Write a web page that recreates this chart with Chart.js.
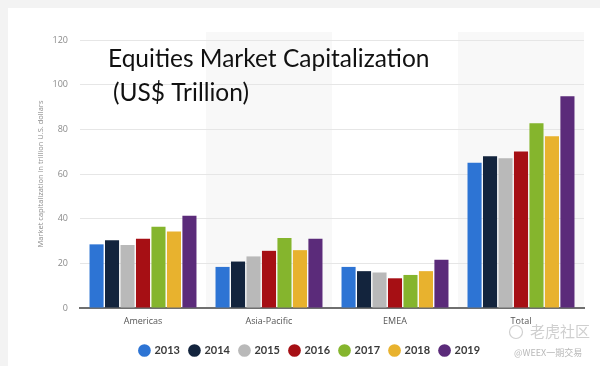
<!DOCTYPE html>
<html>
<head>
<meta charset="utf-8">
<script src="https://cdn.jsdelivr.net/npm/chart.js@4/dist/chart.umd.min.js"></script>
<style>
  html, body { margin: 0; padding: 0; background: #f3f3f3; }
  #wrap { position: absolute; left: 0; top: 0; width: 600px; height: 366px; }
  #card { position: absolute; left: 8px; top: 8px; width: 592px; height: 358px; background: #ffffff; }
  canvas { position: absolute; left: 0; top: 0; }
</style>
</head>
<body>
<div id="wrap">
  <div id="card"></div>
  <canvas id="c" width="600" height="366"></canvas>
</div>
<script>
const categories = ["Americas", "Asia-Pacific", "EMEA", "Total"];
const years = ["2013", "2014", "2015", "2016", "2017", "2018", "2019"];
const v2013 = [28.5, 18.4, 18.4, 65.0];
const v2014 = [30.3, 20.8, 16.5, 67.9];
const v2015 = [28.2, 23.1, 15.9, 67.0];
const v2016 = [31.0, 25.6, 13.3, 70.1];
const v2017 = [36.4, 31.3, 14.8, 82.7];
const v2018 = [34.2, 25.9, 16.5, 76.9];
const v2019 = [41.3, 31.0, 21.6, 94.8];
const yTicks = [0, 20, 40, 60, 80, 100, 120];
const colors = ["#2d74d4", "#13243d", "#b9b9b9", "#a60f14", "#85b52d", "#e8b22e", "#5b2b7a"];
const seriesValues = [v2013, v2014, v2015, v2016, v2017, v2018, v2019];

const bandPlugin = {
  id: 'bands',
  beforeDraw(chart) {
    const { ctx, chartArea, scales } = chart;
    const x = scales.x;
    const w = (chartArea.right - chartArea.left) / categories.length;
    ctx.save();
    ctx.fillStyle = '#f8f8f8';
    categories.forEach((c, i) => {
      if (i % 2 === 1) {
        const cx = x.getPixelForValue(i);
        ctx.fillRect(cx - w / 2, chartArea.top - 8, w, chartArea.bottom - chartArea.top + 8);
      }
    });
    ctx.restore();
  }
};

const overlayPlugin = {
  id: 'overlay',
  afterDraw(chart) {
    const ctx = chart.ctx;
    ctx.save();
    ctx.fillStyle = '#111111';
    ctx.font = '24.5px Lato, "Open Sans", sans-serif';
    ctx.textBaseline = 'alphabetic';
    ctx.textAlign = 'left';
    ctx.fillText('Equities Market Capitalization', 108, 67);
    ctx.fillText('(US$ Trillion)', 113, 101);
    // watermark
    ctx.fillStyle = '#cfcfcf';
    ctx.font = '15px "Noto Sans CJK SC", sans-serif';
    ctx.fillText('老虎社区', 530, 337);
    ctx.strokeStyle = '#d0d0d0';
    ctx.lineWidth = 1.2;
    ctx.beginPath();
    ctx.arc(516, 332, 6.5, 0, Math.PI * 2);
    ctx.stroke();
    ctx.font = '9px "Noto Sans CJK SC", sans-serif';
    ctx.fillStyle = '#b8b8b8';
    ctx.fillText('@WEEX一期交易', 514, 356);
    ctx.restore();
  }
};

new Chart(document.getElementById('c'), {
  type: 'bar',
  data: {
    labels: categories,
    datasets: years.map((y, i) => ({
      label: y,
      data: seriesValues[i],
      backgroundColor: colors[i],
      borderWidth: 0,
      barPercentage: 0.91,
      categoryPercentage: 0.86
    }))
  },
  options: {
    responsive: false,
    animation: false,
    devicePixelRatio: 1,
    layout: { padding: { top: 40, right: 16, bottom: 0, left: 36 } },
    plugins: {
      title: { display: false },
      tooltip: { enabled: false },
      legend: {
        position: 'bottom',
        labels: {
          usePointStyle: true,
          pointStyle: 'circle',
          boxWidth: 9,
          boxHeight: 9,
          padding: 10,
          color: '#3a3a3a',
          font: { family: 'Lato, "Open Sans", sans-serif', size: 11, weight: 'bold' }
        }
      }
    },
    scales: {
      x: {
        grid: { display: false, drawTicks: false },
        border: { display: true, color: '#6f6f6f', width: 2 },
        ticks: { color: '#555555', padding: 8, font: { family: '"Open Sans", sans-serif', size: 9 } },
        afterFit(s) { s.height = 27; }
      },
      y: {
        min: 0,
        max: 120,
        afterBuildTicks(s) { s.ticks = yTicks.map(v => ({ value: v })); },
        grid: { color: '#e6e6e6', lineWidth: 1, drawTicks: false },
        border: { display: false },
        ticks: { color: '#8a8a8a', padding: 12, font: { family: '"Open Sans", sans-serif', size: 9 } },
        title: {
          display: true,
          text: 'Market capitalization in trillion U.S. dollars',
          color: '#8a8a8a',
          font: { family: '"Open Sans", sans-serif', size: 7.5 },
          padding: { top: 0, bottom: 8 }
        },
        afterFit(s) { s.width = 44; }
      }
    }
  },
  plugins: [bandPlugin, overlayPlugin]
});
</script>
</body>
</html>
